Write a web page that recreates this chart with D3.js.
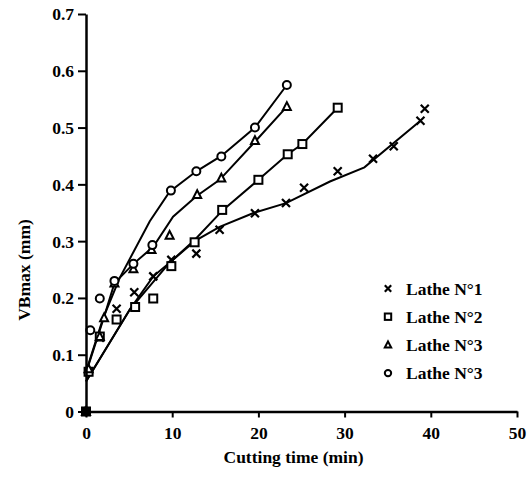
<!DOCTYPE html>
<meta charset="utf-8">
<style>
body { margin: 0; background: #fff; }
</style>
<body>
<script src="https://cdn.jsdelivr.net/npm/d3@7"></script>
<script>
var width = 532, height = 477;
var margin = {left: 86, right: 15, top: 14, bottom: 65};
var serif = "'Liberation Serif'";

// measured points, [time (min), VBmax (mm)]
var lathe1 = [[0,0],[0.3,0.07],[1.6,0.13],[3.55,0.181],[5.6,0.21],[7.8,0.238],[9.9,0.267],[12.8,0.278],[15.5,0.32],[19.6,0.349],[23.2,0.367],[25.3,0.394],[29.2,0.423],[33.3,0.445],[35.7,0.467],[38.8,0.512],[39.3,0.533]];
var lathe2 = [[0,0],[0.3,0.07],[1.6,0.132],[3.55,0.162],[5.7,0.184],[7.8,0.199],[9.9,0.256],[12.6,0.298],[15.8,0.355],[20,0.408],[23.4,0.453],[25.1,0.471],[29.2,0.535]];
var lathe3 = [[0,0],[0.3,0.075],[1.6,0.132],[2.1,0.165],[3.3,0.226],[5.5,0.251],[7.6,0.285],[9.7,0.31],[12.9,0.382],[15.7,0.411],[19.6,0.477],[23.3,0.537]];
var lathe4 = [[0,0],[0.5,0.143],[1.6,0.199],[3.3,0.23],[5.5,0.26],[7.7,0.293],[9.85,0.389],[12.8,0.423],[15.7,0.449],[19.6,0.5],[23.3,0.575]];

// fitted curves
var fit1 = [[0,0.053],[5.1,0.18],[9.7,0.262],[12.6,0.3],[15.5,0.325],[19.5,0.35],[23.2,0.367],[28.3,0.405],[32.3,0.43],[38.8,0.512]];
var fit2 = [[0,0.053],[5.1,0.18],[7.8,0.238],[9.7,0.262],[12.6,0.302],[15.9,0.355],[20,0.408],[23.4,0.453],[25.1,0.471],[29.2,0.535]];
var fit3 = [[0,0.068],[2,0.162],[3.3,0.226],[5.5,0.26],[7.8,0.29],[10.1,0.343],[12.8,0.379],[15.5,0.408],[19.6,0.475],[23.3,0.537]];
var fit4 = [[0,0.07],[2,0.165],[3.9,0.235],[7.4,0.335],[9.7,0.387],[12.8,0.423],[15.7,0.45],[19.6,0.5],[23.3,0.575]];

var legendLabels = ["Lathe N°1", "Lathe N°2", "Lathe N°3", "Lathe N°3"];
var markerTypes = ["x", "square", "triangle", "circle"];
var xTicks = [0, 10, 20, 30, 40, 50];
var yTicks = [0, 0.1, 0.2, 0.3, 0.4, 0.5, 0.6, 0.7];

var series = [lathe1, lathe2, lathe3, lathe4];
var fits = [fit1, fit2, fit3, fit4];

var svg = d3.select("body").append("svg").attr("width", width).attr("height", height);

var x = d3.scaleLinear().domain([0, 50]).range([margin.left, width - margin.right]);
var y = d3.scaleLinear().domain([0, 0.7]).range([height - margin.bottom - 0.5, margin.top]);

// draws one marker centred on 0,0
function marker(g, type, s) {
  if (type == "x") {
    g.append("path").attr("d", "M" + (-s) + "," + (-s) + "L" + s + "," + s + "M" + (-s) + "," + s + "L" + s + "," + (-s))
      .attr("stroke", "#000").attr("stroke-width", 2.2).attr("fill", "none");
  } else if (type == "square") {
    g.append("rect").attr("x", -s).attr("y", -s).attr("width", 2 * s).attr("height", 2 * s)
      .attr("stroke", "#000").attr("stroke-width", 2).attr("fill", "#fff");
  } else if (type == "triangle") {
    g.append("path").attr("d", "M0," + (-s * 1.1) + "L" + s + "," + (s * 0.85) + "L" + (-s) + "," + (s * 0.85) + "Z")
      .attr("stroke", "#000").attr("stroke-width", 2).attr("fill", "#fff");
  } else {
    g.append("circle").attr("r", s).attr("stroke", "#000").attr("stroke-width", 2).attr("fill", "#fff");
  }
}

var line = d3.line().x(function(d){ return x(d[0]); }).y(function(d){ return y(d[1]); });

// fit lines
fits.forEach(function(f){
  svg.append("path").datum(f).attr("d", line)
    .attr("fill", "none").attr("stroke", "#000").attr("stroke-width", 2);
});

// markers
series.forEach(function(s, i){
  s.forEach(function(p){
    var g = svg.append("g").attr("transform", "translate(" + x(p[0]) + "," + y(p[1]) + ")");
    marker(g, markerTypes[i], 4);
  });
});

// axes
var xAxis = svg.append("g").attr("transform", "translate(0," + y(0) + ")")
  .call(d3.axisBottom(x).tickValues(xTicks).tickSize(6).tickSizeOuter(0).tickFormat(d3.format("d")));
var yAxis = svg.append("g").attr("transform", "translate(" + x(0) + ",0)")
  .call(d3.axisLeft(y).tickValues(yTicks).tickSize(8).tickSizeOuter(0).tickFormat(function(d){ return d == 0 ? "0" : d3.format(".1f")(d); }));

[xAxis, yAxis].forEach(function(a){
  a.select(".domain").attr("stroke-width", 2.5);
  a.selectAll(".tick line").attr("stroke-width", 2);
  a.selectAll("text").style("font-size", "17.5px").style("font-weight", "bold").attr("fill", "#000");
});
xAxis.selectAll("text").attr("dy", "1.05em");
yAxis.selectAll("text").attr("x", -12).attr("dy", "0.34em");

// filled block at the origin
svg.append("rect").attr("x", x(0) - 4).attr("y", y(0) - 4).attr("width", 8).attr("height", 8).attr("fill", "#000");

// titles
svg.append("text").attr("x", (x(0) + x(50)) / 2 - 8).attr("y", 463)
  .attr("text-anchor", "middle").style("font-size", "17.5px").style("font-weight", "bold").text("Cutting time (min)");
svg.append("text").attr("transform", "translate(30," + 270 + ") rotate(-90)")
  .attr("text-anchor", "middle").style("font-size", "17.5px").style("font-weight", "bold").text("VBmax (mm)");

// legend
legendLabels.forEach(function(l, i){
  var ly = 288.5 + i * 28.2;
  var g = svg.append("g").attr("transform", "translate(388," + ly + ")");
  marker(g, markerTypes[i], 3.2);
  svg.append("text").attr("x", 406).attr("y", ly + 6).style("font-size", "17.5px").style("font-weight", "bold").text(l);
});

svg.selectAll("text").style("font-family", serif);
</script>
</body>
